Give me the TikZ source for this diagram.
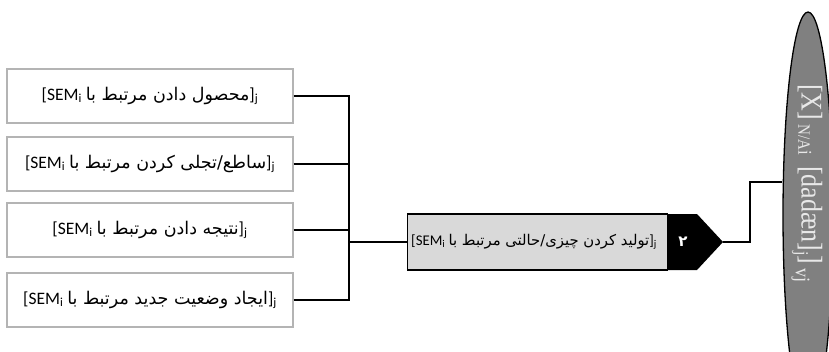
\documentclass[tikz,border=0pt]{standalone}
\usepackage{fontspec}
\usetikzlibrary{shapes.geometric}
\setmainfont{Carlito}
\newfontfamily\fafont[Script=Arabic]{DejaVu Sans}
\newfontfamily\serifrm{Liberation Serif}
\TeXXeTstate=1
\definecolor{boxborder}{HTML}{B4B4B4}
\definecolor{greyfill}{HTML}{D9D9D9}
\definecolor{ellfill}{HTML}{808080}
\definecolor{elltext}{HTML}{E8E8E8}
\begin{document}
\begin{tikzpicture}[x=1pt,y=-1pt,
  sembox/.style={draw=boxborder,line width=1.3pt,fill=white,minimum width=286pt,minimum height=54pt,inner sep=0pt,font=\fontsize{17.5}{20}\selectfont},
  greybox/.style={draw=black,line width=1.2pt,fill=greyfill,minimum width=260pt,minimum height=56pt,inner sep=0pt,anchor=west},
  conn/.style={draw=black,line width=1.8pt}]
\useasboundingbox (0,0) rectangle (829,351);
% ellipse (clipped by picture bounds)
\begin{scope}
\clip (0,0) rectangle (829,351);
\node[ellipse,draw=black,line width=1.3pt,fill=ellfill,minimum width=50pt,minimum height=406pt,inner sep=0pt] (ell) at (808,215) {};
\end{scope}
\node[text=elltext,rotate=-90,font=\serifrm\fontsize{26}{28}\selectfont,inner sep=0pt] (elltxt) at (807,183.5)
  {\scalebox{1}[1.15]{[X]\,\raisebox{-3pt}{{\fontsize{15}{16}\selectfont N/A}{\fontsize{17}{18}\selectfont i}}\, [dadæn]\raisebox{-5pt}{\fontsize{16}{16}\selectfont j}]\,\raisebox{-5pt}{\fontsize{18}{18}\selectfont vj}}};
% left boxes
\node[sembox] (b1) at (150,96) {[SEM\textsubscript{i} {\fafont\beginR محصول دادن مرتبط با\endR}]\textsubscript{j}};
\node[sembox] (b2) at (150,164) {[SEM\textsubscript{i} {\fafont\beginR ساطع/تجلی کردن مرتبط با\endR}]\textsubscript{j}};
\node[sembox] (b3) at (150,230) {[SEM\textsubscript{i} {\fafont\beginR نتیجه دادن مرتبط با\endR}]\textsubscript{j}};
\node[sembox] (b4) at (150,300) {[SEM\textsubscript{i} {\fafont\beginR ایجاد وضعیت جدید مرتبط با\endR}]\textsubscript{j}};
% grey box with black arrow head
\node[greybox] (g) at (407,242) {};
\node[anchor=west,inner sep=0pt,font=\fontsize{14.8}{17}\selectfont] (gt) at (411,242) {[SEM\textsubscript{i} {\fafont\beginR تولید کردن چیزی/حالتی مرتبط با\endR}]\textsubscript{j}};
\coordinate (tip) at (723,242);
\fill[black] (667,214) -- (697,214) -- (tip) -- (697,270) -- (667,270) -- cycle;
\node[text=white,font=\fafont\bfseries\fontsize{15}{18}\selectfont] (num) at (683,242) {۲};
% connectors
\coordinate (jx) at (349,242);
\draw[conn] (b1.east) -| (jx);
\draw[conn] (b2.east) -| (jx);
\draw[conn] (b3.east) -| (jx);
\draw[conn] (b4.east) -| (jx);
\draw[conn] (jx) -- (g.west);
\coordinate (k1) at (750,242);
\coordinate (k2) at (750,182);
\draw[conn] (tip) -- (k1) -- (k2) -- (ell.west |- k2);
\end{tikzpicture}
\end{document}
